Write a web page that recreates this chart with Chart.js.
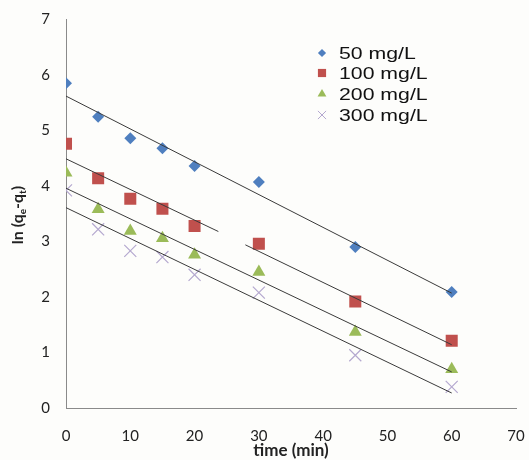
<!DOCTYPE html>
<html>
<head>
<meta charset="utf-8">
<script src="https://cdn.jsdelivr.net/npm/chart.js@4.4.1/dist/chart.umd.min.js"></script>
<style>
  html, body { margin: 0; padding: 0; background: #fdfdfb; }
  #wrap { width: 529px; height: 460px; }
</style>
</head>
<body>
<div id="wrap"><canvas id="chart" width="529" height="460"></canvas></div>
<script>
// Data
const times = [0, 5, 10, 15, 20, 30, 45, 60];
const seriesLabels = ['50 mg/L', '100 mg/L', '200 mg/L', '300 mg/L'];
const series50 = [5.85, 5.25, 4.86, 4.68, 4.36, 4.07, 2.90, 2.09];
const series100 = [4.76, 4.14, 3.77, 3.59, 3.28, 2.96, 1.92, 1.21];
const series200 = [4.24, 3.58, 3.19, 3.06, 2.76, 2.45, 1.37, 0.70];
const series300 = [3.92, 3.22, 2.83, 2.72, 2.40, 2.08, 0.95, 0.38];

// Trend line end points [x, y]
const trend50 = [[0, 5.62], [60, 2.07]];
const trend100a = [[0, 4.49], [23.7, 3.18]];
const trend100b = [[27.9, 2.94], [60, 1.14]];
const trend200 = [[0, 3.96], [60, 0.65]];
const trend300 = [[0, 3.61], [60, 0.27]];

const xTicks = [0, 10, 20, 30, 40, 50, 60, 70];
const yTicks = [0, 1, 2, 3, 4, 5, 6, 7];

const markers = [
    { style: 'rectRot', color: '#4f7fbf', radius: 6 },
    { style: 'rect', color: '#c0504d', radius: 8.5 },
    { style: 'triangle', color: '#9bbb59', radius: 7.5 },
    { style: 'crossRot', color: '#b4a8cf', radius: 8.5 }
];

const toPoints = (ys) => ys.map((y, i) => ({ x: times[i], y: y }));
const toLine = (pts) => pts.map(p => ({ x: p[0], y: p[1] }));

const scatterSets = [series50, series100, series200, series300].map((ys, i) => ({
    type: 'scatter',
    label: seriesLabels[i],
    data: toPoints(ys),
    pointStyle: markers[i].style,
    pointRadius: markers[i].radius,
    pointHoverRadius: markers[i].radius,
    backgroundColor: markers[i].color,
    borderColor: markers[i].color,
    borderWidth: markers[i].style === 'crossRot' ? 1.2 : 0,
    order: 1
}));

const trendSets = [trend50, trend100a, trend100b, trend200, trend300].map(t => ({
    type: 'line',
    label: 'trend',
    data: toLine(t),
    borderColor: '#3a3a3a',
    borderWidth: 1,
    pointRadius: 0,
    fill: false,
    order: 0
}));

// Axis titles (y title has subscripts)
const axisTitles = {
    id: 'axisTitles',
    afterDraw(chart) {
        const ctx = chart.ctx;
        const area = chart.chartArea;
        ctx.save();
        ctx.fillStyle = '#222';
        ctx.textBaseline = 'middle';
        ctx.textAlign = 'center';
        ctx.font = 'bold 17px Lato';
        ctx.fillText('time (min)', (area.left + area.right) / 2, 451);

        // y title, rotated
        const parts = [
            { t: 'ln (q', sub: false },
            { t: 'e', sub: true },
            { t: '-q', sub: false },
            { t: 't', sub: true },
            { t: ')', sub: false }
        ];
        const big = 'bold 16px Lato', small = 'bold 10px Lato';
        let total = 0;
        parts.forEach(p => { ctx.font = p.sub ? small : big; p.w = ctx.measureText(p.t).width; total += p.w; });
        ctx.translate(18, 215);
        ctx.rotate(-Math.PI / 2);
        ctx.textAlign = 'left';
        ctx.textBaseline = 'alphabetic';
        let x = -total / 2;
        parts.forEach(p => {
            ctx.font = p.sub ? small : big;
            ctx.fillText(p.t, x, p.sub ? 8 : 5);
            x += p.w;
        });
        ctx.restore();
    }
};

// Legend inside the plot area (text is drawn a bit wide, as in the reference)
const insideLegend = {
    id: 'insideLegend',
    afterDraw(chart) {
        const ctx = chart.ctx;
        const rows = [53, 73, 94, 115];
        ctx.save();
        seriesLabels.forEach((label, i) => {
            const m = markers[i];
            ctx.fillStyle = m.color;
            ctx.strokeStyle = m.color;
            ctx.lineWidth = 1;
            Chart.helpers.drawPoint(ctx, {
                pointStyle: m.style,
                radius: m.radius * 0.68,
                borderWidth: m.style === 'crossRot' ? 1 : 0,
                rotation: 0
            }, 322, rows[i]);
            ctx.save();
            ctx.translate(339, rows[i] + 1);
            ctx.scale(1.25, 1);
            ctx.fillStyle = '#111';
            ctx.font = '17px "Liberation Sans"';
            ctx.textAlign = 'left';
            ctx.textBaseline = 'middle';
            ctx.fillText(label, 0, 0);
            ctx.restore();
        });
        ctx.restore();
    }
};

const canvasBg = {
    id: 'canvasBg',
    beforeDraw(chart) {
        const ctx = chart.ctx;
        ctx.save();
        ctx.fillStyle = '#fdfdfb';
        ctx.fillRect(0, 0, chart.width, chart.height);
        ctx.restore();
    }
};

new Chart(document.getElementById('chart'), {
    data: { datasets: trendSets.concat(scatterSets) },
    options: {
        responsive: false,
        animation: false,
        layout: { padding: { top: 19.5, right: 13, left: 0, bottom: 0 } },
        plugins: {
            legend: { display: false },
            tooltip: { enabled: false }
        },
        scales: {
            x: {
                type: 'linear',
                min: 0,
                max: 70,
                afterBuildTicks: (scale) => { scale.ticks = xTicks.map(v => ({ value: v })); },
                afterFit: (scale) => { scale.height = 52; },
                grid: { display: false, drawTicks: true, tickLength: 19 },
                border: { display: true, color: '#8a8a8a', width: 1 },
                ticks: { color: '#222', font: { family: 'Lato', size: 15 }, padding: 0, maxRotation: 0 }
            },
            y: {
                type: 'linear',
                min: 0,
                max: 7,
                afterBuildTicks: (scale) => { scale.ticks = yTicks.map(v => ({ value: v })); },
                afterFit: (scale) => { scale.width = 66; },
                grid: { display: false, drawTicks: true, tickLength: 16 },
                border: { display: true, color: '#8a8a8a', width: 1 },
                ticks: { color: '#222', font: { family: 'Lato', size: 15 }, padding: 0 }
            }
        }
    },
    plugins: [canvasBg, axisTitles, insideLegend]
});
</script>
</body>
</html>
